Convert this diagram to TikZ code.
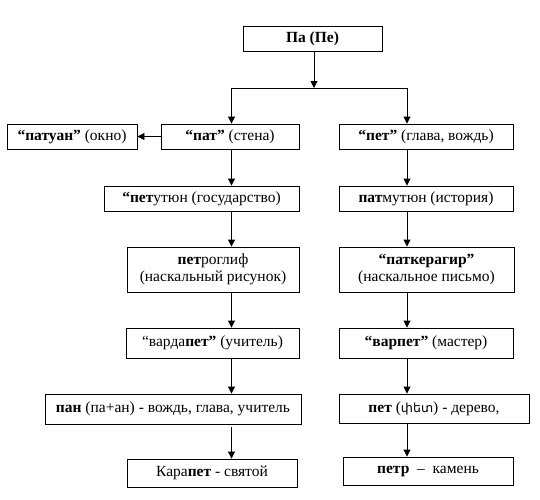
\documentclass[tikz,border=0pt]{standalone}
\usepackage{fontspec}
\setmainfont{Liberation Serif}
\newfontfamily\armfont{DejaVu Sans}
\usetikzlibrary{positioning,arrows.meta}

\begin{document}
\begin{tikzpicture}[
  x=1pt, y=-1pt,
  >={Triangle[length=7pt,width=7pt]},
  wordbox/.style={draw=black, line width=0.9pt, inner sep=0pt, minimum height=25pt, align=center, font=\fontsize{15.5}{17.5}\selectfont},
  arr/.style={->, line width=0.9pt}
]
  \useasboundingbox (0,0) rectangle (540,499);
  \node[wordbox, minimum width=139pt] (root) at (312.5,38.5) {\textbf{Па (Пе)}};
  \node[wordbox, minimum width=130pt] (patuan) at (72,136.5) {\textbf{“патуан”} (окно)};
  \node[wordbox, minimum width=138pt] (pat) at (230,136.5) {\textbf{“пат”} (стена)};
  \node[wordbox, minimum width=174pt] (pet) at (426,136.5) {\textbf{“пет”} (глава, вождь)};
  \node[wordbox, minimum width=195pt] (petutyun) at (201.5,198.5) {\textbf{“пет}утюн (государство)};
  \node[wordbox, minimum width=174pt] (patmutyun) at (426,198.5) {\textbf{пат}мутюн (история)};
  \node[wordbox, minimum width=172pt, minimum height=45pt] (petroglif) at (213,269.5) {\textbf{пет}роглиф\\(наскальный рисунок)};
  \node[wordbox, minimum width=175pt, minimum height=45pt] (patkeragir) at (426.5,269.5) {\textbf{“паткерагир”}\\(наскальное письмо)};
  \node[wordbox, minimum width=173pt, minimum height=30pt] (vardapet) at (212.5,343) {“варда\textbf{пет”} (учитель)};
  \node[wordbox, minimum width=174pt, minimum height=30pt] (varpet) at (426,343) {\textbf{“варпет”} (мастер)};
  \node[wordbox, minimum width=256pt, minimum height=30pt] (pan) at (173,409) {\textbf{пан} (па+ан) - вождь, глава, учитель};
  \node[wordbox, minimum width=190pt, minimum height=29pt] (petwood) at (434,408.5) {\textbf{пет} ({\armfont\fontsize{12.5}{16}\selectfont փետ}) - дерево,};
  \node[wordbox, minimum width=170pt, minimum height=28pt] (karapet) at (212,473) {Кара\textbf{пет} - святой};
  \node[wordbox, minimum width=170pt, minimum height=28pt] (petr) at (428,471) {\textbf{петр}\ \ –\ \ камень};

  \coordinate (split) at (314,88);
  \coordinate (lcol) at (231.5,0);
  \coordinate (rcol) at (407,0);
  \draw[arr] (root.south -| split) -- (split);
  \draw[line width=0.9pt] (split -| lcol) -- (split -| rcol);
  \draw[arr] (split -| lcol) -- (pat.north -| lcol);
  \draw[arr] (split -| rcol) -- (pet.north -| rcol);
  \draw[arr] (pat) -- (patuan);
  \foreach \a/\b in {pat/petutyun,petutyun/petroglif,petroglif/vardapet,vardapet/pan}
    \draw[arr] (\a.south -| lcol) -- (\b.north -| lcol);
  \draw[arr, shorten <=3pt] (pan.south -| lcol) -- (karapet.north -| lcol);
  \foreach \a/\b in {pet/patmutyun,patmutyun/patkeragir,patkeragir/varpet,varpet/petwood,petwood/petr}
    \draw[arr] (\a.south -| rcol) -- (\b.north -| rcol);
\end{tikzpicture}
\end{document}
